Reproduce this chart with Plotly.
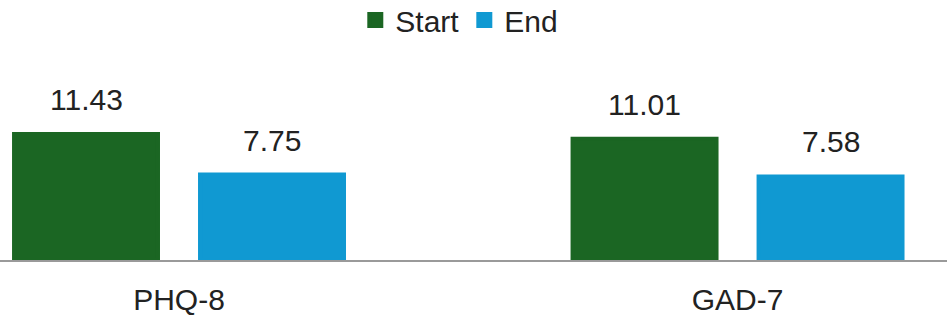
import plotly.graph_objects as go

categories = ["PHQ-8", "GAD-7"]
start_vals = [11.43, 11.01]
end_vals = [7.75, 7.58]
series_names = ["Start", "End"]
colors = ["#1b6623", "#1099d2"]

BARGAP = 0.334
FONT = "Liberation Sans, Arial, sans-serif"
TXT = "#222222"
FS = 30

fig = go.Figure()
for name, vals, col in zip(series_names, [start_vals, end_vals], colors):
    fig.add_trace(go.Bar(
        name=name, x=categories, y=vals,
        marker=dict(color=col, line=dict(width=4, color=col)),
    ))

# value labels above bars (positioned from the data and the group layout)
slot = (1 - BARGAP) / 2
for k, vals in enumerate([start_vals, end_vals]):
    off = (k - 0.5) * slot
    for i, v in enumerate(vals):
        fig.add_annotation(
            x=i + off, y=v, xref="x", yref="y",
            text=f"{v:.2f}", showarrow=False,
            yanchor="bottom", yshift=16,
            font=dict(family=FONT, size=FS, color=TXT),
        )

fig.update_layout(
    width=947, height=318,
    margin=dict(l=0, r=0, t=60, b=58, autoexpand=False),
    paper_bgcolor="white", plot_bgcolor="white",
    barmode="group", bargap=BARGAP, bargroupgap=0.226,
    showlegend=True,
    legend=dict(
        orientation="h", x=0.485, xanchor="center", y=1.33, yanchor="top",
        yref="paper", font=dict(family=FONT, size=FS, color=TXT),
        itemwidth=30, traceorder="normal",
    ),
    font=dict(family=FONT, size=FS, color=TXT),
    xaxis=dict(
        type="category", range=[-0.3205, 1.375], automargin=False,
        showline=True, linecolor="#9a9a9a", linewidth=2, layer="above traces",
        ticks="outside", ticklen=12, tickcolor="rgba(0,0,0,0)",
        tickfont=dict(family=FONT, size=FS, color=TXT),
        showgrid=False, zeroline=False, fixedrange=True,
    ),
    yaxis=dict(
        range=[0, 18.15], visible=False, showgrid=False, zeroline=False,
        automargin=False,
    ),
)

fig.write_html(
    "out.html",
    config={"displayModeBar": False},
    post_script="document.body.style.margin='0';document.body.style.overflow='hidden';",
)
